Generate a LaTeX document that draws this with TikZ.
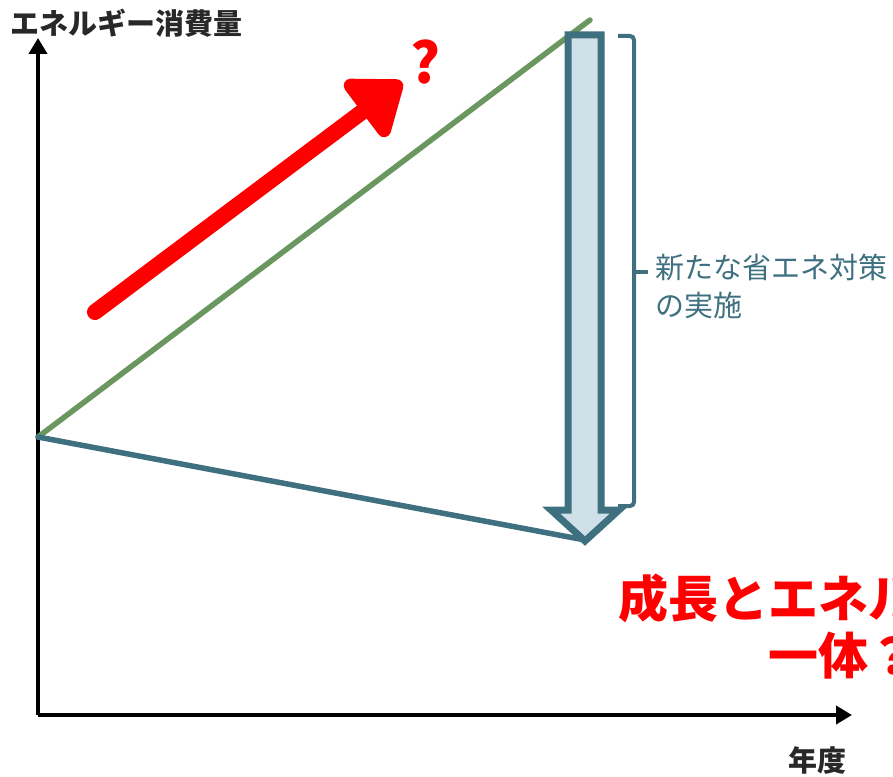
\documentclass[tikz,border=0pt]{standalone}
\usepackage{fontspec}
\setmainfont{Noto Sans CJK JP}
\usetikzlibrary{arrows.meta}
\definecolor{teal1}{RGB}{62,112,128}
\definecolor{fillblue}{RGB}{207,224,232}
\definecolor{green1}{RGB}{106,150,96}
\definecolor{red1}{RGB}{255,0,0}
\definecolor{axislbl}{RGB}{40,40,40}
\tikzset{
  axis/.style={line width=4pt, black, -{Triangle[length=16pt,width=18pt]}},
  trendline/.style={line width=5.5pt, line cap=round},
  axlabel/.style={font=\fontsize{29pt}{32pt}\selectfont\bfseries, text=axislbl, inner sep=0pt},
  noteText/.style={font=\fontsize{29pt}{38pt}\selectfont, text=teal1, inner sep=0pt, align=left},
  redText/.style={font=\fontsize{50pt}{62pt}\selectfont\bfseries, text=red1, inner sep=0pt},
}
\begin{document}
\begin{tikzpicture}[x=1pt,y=-1pt]
\clip (0,0) rectangle (893,776);
\useasboundingbox (0,0) rectangle (893,776);
% coordinates
\coordinate (O) at (38,715);
\coordinate (ytop) at (38,38);
\coordinate (xend) at (852,715);
\coordinate (start) at (38,437);
\coordinate (gtop) at (590,20);
\coordinate (btm) at (585,540);
% axes
\draw[axis] (O) -- (ytop);
\draw[axis] (O) -- (xend);
\node[axlabel, anchor=west] (ylab) at (10,23) {エネルギー消費量};
\node[axlabel] (xlab) at (817,760) {年度};
% trend lines
\draw[trendline, green1] (start) -- (gtop);
\draw[trendline, teal1] (start) -- (btm);
% block arrow
\draw[teal1, fill=fillblue, line width=7pt, line join=miter]
  (568,35) -- (601,35) -- (601,510) -- (619,510) -- (585,541) -- (551,510) -- (568,510) -- cycle;
% bracket
\coordinate (bt) at (618,36);
\coordinate (bb) at (618,506);
\draw[teal1, line width=4pt, rounded corners=4pt] (bt) -- (634,36) -- (634,506) -- (bb);
\coordinate (tick) at (634,272);
\coordinate (tickend) at (648,272);
\draw[teal1, line width=4pt] (tick) -- (tickend);
\node[noteText, anchor=north west] (note) at (655,254) {新たな省エネ対策\\の実施};
% red arrow
\coordinate (ra) at (95,312);
\coordinate (rb) at (402,82);
\draw[red1, line width=16pt, line cap=round, -{Triangle[length=55pt,width=80pt,round]}] (ra) -- (rb);
\node[font=\fontsize{56pt}{56pt}\selectfont\bfseries, text=red1, inner sep=0pt] (q) at (426,62) {?};
% red text
\node[redText, anchor=west] (r1) at (618,598) {成長とエネル};
\node[redText, anchor=west] (r2) at (768,656) {一体？};
\end{tikzpicture}
\end{document}
